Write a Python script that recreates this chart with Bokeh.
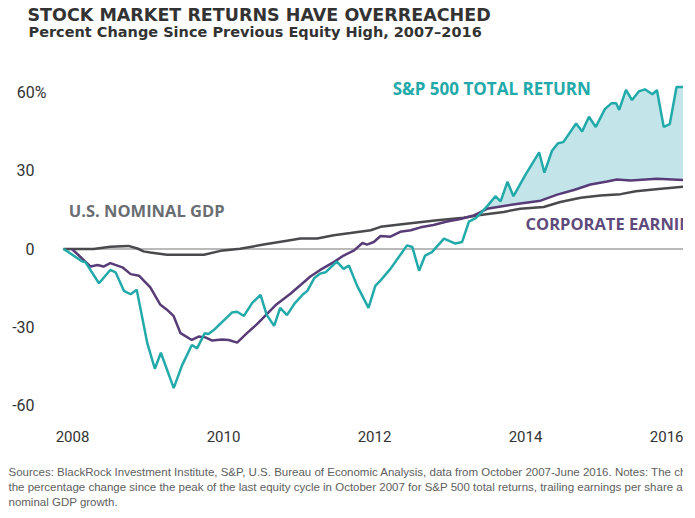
from bokeh.plotting import figure
from bokeh.models import Span, FixedTicker, Range1d, Title
from bokeh.core.properties import value
from bokeh.embed import file_html
from bokeh.resources import INLINE

# ---------------- data ----------------
TITLE = "STOCK MARKET RETURNS HAVE OVERREACHED"
SUBTITLE = "Percent Change Since Previous Equity High, 2007\u20132016"
SOURCE_LINES = [
    "Sources: BlackRock Investment Institute, S&P, U.S. Bureau of Economic Analysis, data from October 2007-June 2016. Notes: The chart shows",
    "the percentage change since the peak of the last equity cycle in October 2007 for S&P 500 total returns, trailing earnings per share and",
    "nominal GDP growth.",
]
SERIES_NAMES = ["S&P 500 TOTAL RETURN", "CORPORATE EARNINGS", "U.S. NOMINAL GDP"]

Y_TICKS = [-60, -30, 0, 30, 60]
Y_TICK_LABELS = ["-60", "-30", "0", "30", "60%"]
X_TICKS = [2007.87, 2009.87, 2011.87, 2013.87, 2015.87]
X_TICK_LABELS = ["2008", "2010", "2012", "2014", "2016"]

sp_t = [2007.75, 2007.78, 2008.00, 2008.04, 2008.22, 2008.37, 2008.44, 2008.55, 2008.64, 2008.72,
        2008.86, 2008.96, 2009.04, 2009.21, 2009.32, 2009.45, 2009.52, 2009.62, 2009.67, 2009.74,
        2009.83, 2009.98, 2010.05, 2010.14, 2010.25, 2010.36, 2010.44, 2010.54, 2010.62, 2010.71,
        2010.81, 2010.92, 2010.98, 2011.07, 2011.15, 2011.22, 2011.37, 2011.46, 2011.53, 2011.64,
        2011.79, 2011.88, 2011.95, 2012.08, 2012.30, 2012.37, 2012.46, 2012.54, 2012.63, 2012.79,
        2012.94, 2013.03, 2013.12, 2013.21, 2013.30, 2013.38, 2013.47, 2013.54, 2013.63, 2013.71,
        2013.87, 2014.05, 2014.12, 2014.22, 2014.30, 2014.37, 2014.54, 2014.62, 2014.71, 2014.80,
        2014.92, 2015.01, 2015.07, 2015.11, 2015.20, 2015.28, 2015.37, 2015.45, 2015.55, 2015.61,
        2015.70, 2015.78, 2015.87, 2015.96, 2016.04]
sp_v = [0.0, -0.5, -4.8, -5.0, -13.1, -8.0, -8.9, -16.0, -17.3, -15.6,
        -36.0, -45.8, -39.7, -53.2, -44.5, -36.7, -38.0, -32.2, -32.5, -31.0,
        -28.5, -24.3, -24.0, -25.6, -20.6, -17.5, -25.1, -29.4, -22.5, -25.3,
        -20.9, -17.4, -16.0, -11.2, -9.4, -8.9, -4.8, -7.6, -6.3, -14.1,
        -22.5, -14.1, -12.0, -7.6, 1.4, 0.8, -8.3, -2.5, -1.2, 4.0,
        2.1, 2.7, 10.5, 11.8, 14.4, 17.0, 20.2, 18.2, 25.7, 20.2,
        28.5, 37.0, 29.2, 37.6, 40.5, 40.9, 48.0, 45.0, 50.6, 46.7,
        53.5, 55.8, 55.8, 53.2, 60.9, 57.0, 60.3, 61.1, 59.2, 60.8,
        46.7, 47.8, 62.0, 62.0, 61.5]

eps_t = [2007.86, 2007.93, 2008.11, 2008.20, 2008.28, 2008.37, 2008.53, 2008.64, 2008.75, 2008.90,
         2009.03, 2009.12, 2009.21, 2009.30, 2009.45, 2009.54, 2009.63, 2009.72, 2009.85, 2009.94,
         2010.05, 2010.18, 2010.31, 2010.57, 2010.76, 2011.02, 2011.15, 2011.33, 2011.46, 2011.60,
         2011.71, 2011.77, 2011.86, 2011.95, 2012.08, 2012.21, 2012.35, 2012.48, 2012.65, 2012.83,
         2013.01, 2013.18, 2013.36, 2013.54, 2013.80, 2014.07, 2014.29, 2014.51, 2014.73, 2014.95,
         2015.08, 2015.26, 2015.61, 2015.97, 2016.05]
eps_v = [0.0, -1.8, -6.7, -6.1, -6.7, -5.4, -7.0, -9.6, -10.2, -14.7,
         -21.2, -23.2, -25.7, -32.2, -34.8, -33.5, -33.8, -35.0, -34.6, -34.8,
         -35.8, -32.2, -28.8, -21.2, -17.0, -10.5, -8.0, -5.0, -2.5, -0.5,
         2.3, 1.7, 2.7, 5.0, 4.7, 6.6, 7.2, 8.3, 9.2, 10.5,
         11.5, 12.8, 15.4, 16.3, 17.4, 18.5, 20.8, 22.6, 24.7, 25.8,
         26.6, 26.2, 26.9, 26.4, 26.2]

gdp_t = [2007.75, 2008.15, 2008.37, 2008.61, 2008.73, 2008.81, 2008.90, 2009.12, 2009.61, 2009.83,
         2010.09, 2010.40, 2010.71, 2010.89, 2011.11, 2011.33, 2011.55, 2011.82, 2011.95, 2012.26,
         2012.70, 2013.05, 2013.27, 2013.58, 2013.80, 2014.11, 2014.33, 2014.60, 2014.86, 2015.13,
         2015.33, 2015.63, 2015.97, 2016.05]
gdp_v = [0.0, 0.0, 0.9, 1.2, 0.2, -0.9, -1.3, -2.2, -2.2, -0.7,
         0.1, 1.7, 3.2, 4.0, 4.0, 5.3, 6.1, 7.2, 8.5, 9.6,
         11.0, 12.0, 13.0, 14.2, 15.4, 16.1, 18.0, 19.6, 20.5, 21.0,
         22.1, 23.0, 23.9, 24.1]

# ---------------- styling ----------------
TEAL = "#22a9a9"
FILL = "#c3e5e9"
PURPLE = "#583c78"
GDP = "#4a4a4d"
ZERO = "#a3a3a3"
TXT = "#333333"
PAD = "\u00a0\u00a0\u00a0"   # keeps the numbers aligned with "60" of "60%"

p = figure(width=683, height=508,
           x_range=Range1d(2007.737, 2015.962), y_range=Range1d(-67.13, 68.68),
           output_backend="svg", toolbar_location=None, title=None,
           min_border_left=62, min_border_right=0, min_border_top=0, min_border_bottom=0)
p.outline_line_color = None
p.xgrid.visible = False
p.ygrid.visible = False
p.background_fill_color = "white"
p.border_fill_color = "white"

for ax in (p.xaxis[0], p.yaxis[0]):
    ax.axis_line_color = None
    ax.major_tick_line_color = None
    ax.minor_tick_line_color = None
    ax.major_tick_out = 0
    ax.major_tick_in = 0
    ax.minor_tick_out = 0
    ax.minor_tick_in = 0
    ax.major_label_text_font = "Roboto"
    ax.major_label_text_color = TXT

p.yaxis[0].ticker = FixedTicker(ticks=Y_TICKS)
p.yaxis[0].major_label_overrides = {v: (s if s.endswith("%") else s + PAD)
                                    for v, s in zip(Y_TICKS, Y_TICK_LABELS)}
p.yaxis[0].major_label_standoff = 16
p.yaxis[0].major_label_text_font_size = "16px"
p.xaxis[0].ticker = FixedTicker(ticks=X_TICKS)
p.xaxis[0].major_label_overrides = dict(zip(X_TICKS, X_TICK_LABELS))
p.xaxis[0].major_label_standoff = 6
p.xaxis[0].major_label_text_font_size = "15px"

p.add_layout(Span(location=0, dimension="width", line_color=ZERO, line_width=1.5, level="underlay"))

# shaded gap between S&P total return and earnings once returns move ahead
fx = [t for t in sp_t if t >= 2013.21]
fy = [v for t, v in zip(sp_t, sp_v) if t >= 2013.21]
ex = [t for t in eps_t if t >= 2013.18][::-1]
ey = [v for t, v in zip(eps_t, eps_v) if t >= 2013.18][::-1]
p.patch(fx + ex, fy + ey, fill_color=FILL, line_color=None)

p.line(gdp_t, gdp_v, line_color=GDP, line_width=2.5)
p.line(eps_t, eps_v, line_color=PURPLE, line_width=2.5)
p.line(sp_t, sp_v, line_color=TEAL, line_width=2.5)

p.text(x=[2012.11], y=[61.3], text=SERIES_NAMES[:1], text_color=TEAL,
       text_font=value("Open Sans"), text_font_style="bold", text_font_size="17px",
       text_align="left", text_baseline="alphabetic")
p.text(x=[2013.87, 2007.82], y=[9.7, 14.7], text=SERIES_NAMES[1:],
       text_color=["#5e4b7b", "#6a6e73"], text_font=value("Open Sans"),
       text_font_style="bold", text_font_size="16.5px",
       text_align="left", text_baseline="alphabetic")

# ---- titles above (nearest to the plot first) ----
p.add_layout(Title(text=" ", text_font_size="10px", text_font="Liberation Sans",
                   standoff=17.5, align="left"), "above")
p.add_layout(Title(text=SUBTITLE, text_font="DejaVu Sans", text_font_style="bold",
                   text_font_size="14.5px", text_color=TXT, align="left", offset=-34,
                   vertical_align="top", standoff=-6.9), "above")
p.add_layout(Title(text=TITLE, text_font="DejaVu Sans", text_font_style="bold",
                   text_font_size="17.5px", text_color=TXT, align="left", offset=-35,
                   vertical_align="bottom", standoff=4.9), "above")

# ---- source notes below ----
p.add_layout(Title(text=" ", text_font_size="10px", text_font="Liberation Sans",
                   standoff=5.5, align="left"), "below")
for line in SOURCE_LINES:
    p.add_layout(Title(text=line, text_font="Liberation Sans", text_font_style="normal",
                       text_font_size="11.5px", text_color="#606060", align="left",
                       offset=-54, vertical_align="bottom", standoff=0.9), "below")

open("out.html", "w").write(file_html(p, INLINE))
